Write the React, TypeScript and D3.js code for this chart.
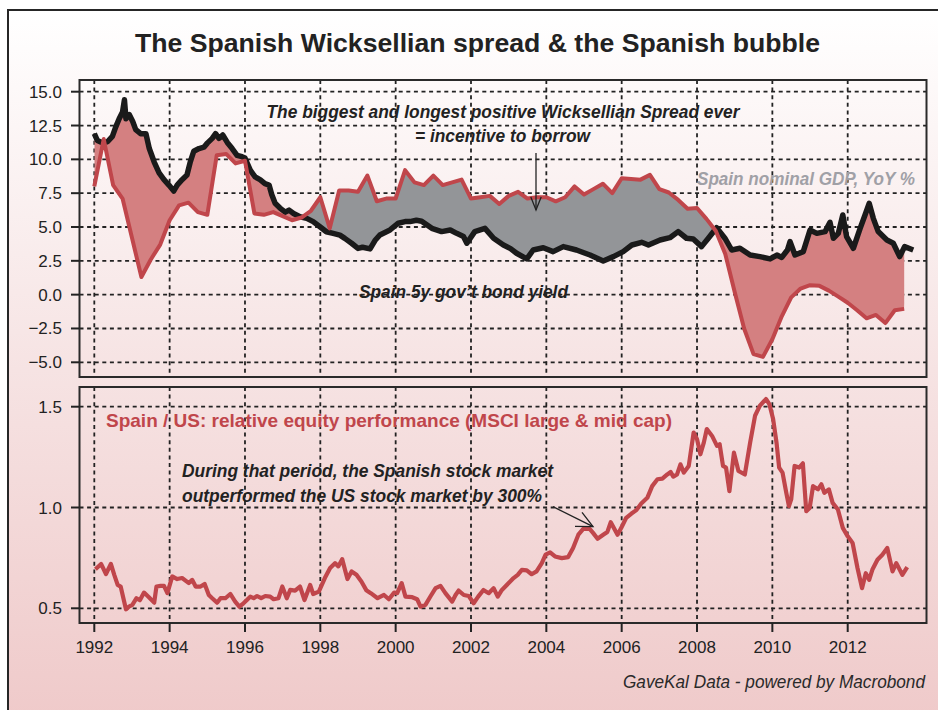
import React from "react"
import * as d3 from "d3"

// ---- data ----
const yearTicks = [1992, 1994, 1996, 1998, 2000, 2002, 2004, 2006, 2008, 2010, 2012]
const topTicks = [15, 12.5, 10, 7.5, 5, 2.5, 0, -2.5, -5]
const bottomTicks = [1.5, 1.0, 0.5]

// Spain nominal GDP, YoY % (quarterly)
const gdpYoY: [number, number][] = [
  [1992.0, 8.0], [1992.25, 11.5], [1992.5, 8.1], [1992.75, 7.1], [1993.0, 4.2], [1993.25, 1.3],
  [1993.5, 2.6], [1993.75, 3.7], [1994.0, 5.5], [1994.25, 6.6], [1994.5, 6.8], [1994.75, 6.1],
  [1995.0, 5.9], [1995.25, 10.3], [1995.5, 10.4], [1995.75, 9.7], [1996.0, 9.9], [1996.25, 6.0],
  [1996.5, 5.9], [1996.75, 6.1], [1997.0, 5.8], [1997.25, 5.5], [1997.5, 5.7], [1997.75, 6.2],
  [1998.0, 7.2], [1998.25, 4.9], [1998.5, 7.7], [1998.75, 7.7], [1999.0, 7.6], [1999.25, 8.8],
  [1999.5, 6.9], [1999.75, 7.1], [2000.0, 7.1], [2000.25, 9.2], [2000.5, 8.3], [2000.75, 8.1],
  [2001.0, 8.8], [2001.25, 8.1], [2001.5, 8.3], [2001.75, 8.5], [2002.0, 7.1], [2002.25, 7.2],
  [2002.5, 7.3], [2002.75, 6.7], [2003.0, 7.3], [2003.25, 7.6], [2003.5, 7.1], [2003.75, 7.2],
  [2004.0, 7.2], [2004.25, 6.9], [2004.5, 7.2], [2004.75, 8.0], [2005.0, 7.4], [2005.25, 7.8],
  [2005.5, 8.2], [2005.75, 7.5], [2006.0, 8.6], [2006.25, 8.55], [2006.5, 8.5], [2006.75, 8.85],
  [2007.0, 7.8], [2007.25, 7.55], [2007.5, 7.0], [2007.75, 6.35], [2008.0, 6.4], [2008.25, 5.6],
  [2008.5, 4.7], [2008.75, 3.0], [2009.0, 0.2], [2009.25, -2.5], [2009.5, -4.4], [2009.75, -4.6],
  [2010.0, -3.3], [2010.25, -1.6], [2010.5, -0.2], [2010.75, 0.45], [2011.0, 0.7], [2011.25, 0.65],
  [2011.5, 0.3], [2011.75, -0.15], [2012.0, -0.6], [2012.25, -1.15], [2012.5, -1.75], [2012.75, -1.5],
  [2013.0, -2.1], [2013.25, -1.15], [2013.5, -1.05],
]

// Spain 5y gov't bond yield
const bondYield: [number, number][] = [
  [1992.0, 11.9], [1992.08, 11.4], [1992.2, 11.25], [1992.35, 11.3], [1992.48, 11.7], [1992.57, 12.4],
  [1992.66, 13.0], [1992.75, 13.5], [1992.8, 14.4], [1992.84, 13.0], [1992.93, 13.3], [1993.02, 12.8],
  [1993.1, 12.2], [1993.23, 11.9], [1993.37, 11.9], [1993.46, 10.8], [1993.59, 9.8], [1993.72, 9.0],
  [1993.85, 8.5], [1993.98, 8.1], [1994.11, 7.66], [1994.2, 8.1], [1994.33, 8.5], [1994.46, 8.84],
  [1994.55, 9.83], [1994.64, 10.6], [1994.78, 10.8], [1994.91, 10.9], [1995.0, 11.2], [1995.13, 11.55],
  [1995.22, 11.9], [1995.31, 11.55], [1995.41, 11.8], [1995.53, 11.25], [1995.66, 10.8], [1995.79, 10.3],
  [1995.92, 10.2], [1996.0, 10.1], [1996.14, 9.2], [1996.27, 8.7], [1996.4, 8.5], [1996.53, 8.2],
  [1996.64, 8.1], [1996.71, 7.4], [1996.8, 6.75], [1996.93, 6.4], [1997.07, 6.1], [1997.17, 6.25],
  [1997.29, 6.0], [1997.46, 5.76], [1997.64, 5.64], [1997.81, 5.4], [1997.99, 5.02], [1998.16, 4.65],
  [1998.34, 4.53], [1998.52, 4.4], [1998.65, 4.16], [1998.83, 3.8], [1999.0, 3.42], [1999.12, 3.5],
  [1999.32, 3.38], [1999.45, 4.0], [1999.58, 4.41], [1999.85, 4.78], [2000.07, 5.28], [2000.25, 5.4],
  [2000.38, 5.4], [2000.55, 5.5], [2000.69, 5.43], [2000.96, 4.9], [2001.22, 4.66], [2001.45, 4.78],
  [2001.62, 4.53], [2001.8, 4.3], [2001.89, 3.8], [2002.1, 4.66], [2002.37, 4.9], [2002.6, 4.17],
  [2002.86, 3.67], [2003.05, 3.4], [2003.21, 3.06], [2003.48, 2.64], [2003.65, 3.3], [2003.92, 3.47],
  [2004.18, 3.18], [2004.45, 3.55], [2004.8, 3.3], [2005.16, 2.93], [2005.51, 2.49], [2005.78, 2.81],
  [2006.04, 3.18], [2006.27, 3.67], [2006.53, 3.87], [2006.71, 3.67], [2007.02, 4.04], [2007.28, 4.21],
  [2007.5, 4.66], [2007.72, 4.17], [2007.9, 4.12], [2008.12, 3.55], [2008.3, 4.17], [2008.52, 4.95],
  [2008.74, 4.17], [2008.92, 3.3], [2009.14, 3.43], [2009.41, 2.93], [2009.67, 2.81], [2009.94, 2.64],
  [2010.12, 2.93], [2010.25, 2.75], [2010.4, 3.3], [2010.47, 3.92], [2010.6, 2.93], [2010.82, 3.18],
  [2011.0, 4.78], [2011.18, 4.53], [2011.4, 4.66], [2011.53, 5.35], [2011.62, 4.17], [2011.75, 4.53],
  [2011.87, 5.89], [2011.97, 4.29], [2012.15, 3.43], [2012.33, 4.9], [2012.46, 5.89], [2012.57, 6.75],
  [2012.68, 5.64], [2012.81, 4.66], [2013.04, 4.04], [2013.21, 3.8], [2013.38, 2.81], [2013.51, 3.55],
  [2013.74, 3.3],
]

// Spain / US relative equity performance
const relEquity: [number, number][] = [
  [1992.03, 0.694], [1992.18, 0.72], [1992.31, 0.67], [1992.44, 0.72], [1992.53, 0.666], [1992.62, 0.616],
  [1992.7, 0.608], [1992.84, 0.495], [1992.93, 0.51], [1993.01, 0.517], [1993.12, 0.55], [1993.21, 0.54],
  [1993.32, 0.578], [1993.45, 0.555], [1993.59, 0.528], [1993.65, 0.608], [1993.76, 0.611], [1993.85, 0.611],
  [1993.94, 0.575], [1994.07, 0.658], [1994.2, 0.645], [1994.33, 0.65], [1994.51, 0.625], [1994.6, 0.641],
  [1994.69, 0.608], [1994.82, 0.608], [1994.93, 0.621], [1995.04, 0.566], [1995.13, 0.55], [1995.26, 0.528],
  [1995.35, 0.55], [1995.48, 0.55], [1995.61, 0.571], [1995.74, 0.533], [1995.85, 0.508], [1995.96, 0.525],
  [1996.05, 0.541], [1996.14, 0.558], [1996.23, 0.55], [1996.32, 0.561], [1996.43, 0.55], [1996.54, 0.561],
  [1996.67, 0.558], [1996.76, 0.545], [1996.89, 0.55], [1996.99, 0.608], [1997.11, 0.55], [1997.2, 0.591],
  [1997.33, 0.588], [1997.46, 0.608], [1997.58, 0.541], [1997.73, 0.616], [1997.81, 0.571], [1997.96, 0.583],
  [1998.12, 0.65], [1998.26, 0.7], [1998.39, 0.724], [1998.48, 0.708], [1998.58, 0.744], [1998.72, 0.645],
  [1998.83, 0.683], [1998.96, 0.666], [1999.09, 0.633], [1999.22, 0.59], [1999.34, 0.575], [1999.52, 0.55],
  [1999.69, 0.566], [1999.82, 0.545], [1999.96, 0.578], [2000.04, 0.575], [2000.16, 0.625], [2000.26, 0.558],
  [2000.44, 0.555], [2000.57, 0.545], [2000.66, 0.508], [2000.79, 0.517], [2000.93, 0.561], [2001.06, 0.6],
  [2001.19, 0.611], [2001.32, 0.575], [2001.5, 0.533], [2001.59, 0.566], [2001.67, 0.588], [2001.81, 0.566],
  [2001.94, 0.561], [2002.07, 0.525], [2002.19, 0.558], [2002.33, 0.591], [2002.47, 0.575], [2002.6, 0.6],
  [2002.71, 0.558], [2002.82, 0.591], [2003.0, 0.625], [2003.13, 0.65], [2003.24, 0.666], [2003.35, 0.691],
  [2003.48, 0.688], [2003.61, 0.669], [2003.74, 0.683], [2003.88, 0.724], [2003.98, 0.766], [2004.1, 0.777],
  [2004.23, 0.757], [2004.41, 0.749], [2004.58, 0.754], [2004.71, 0.799], [2004.85, 0.865], [2004.98, 0.894],
  [2005.15, 0.894], [2005.24, 0.874], [2005.36, 0.845], [2005.51, 0.865], [2005.62, 0.879], [2005.71, 0.927],
  [2005.89, 0.865], [2005.99, 0.899], [2006.12, 0.949], [2006.26, 0.97], [2006.39, 0.987], [2006.52, 1.02],
  [2006.68, 1.048], [2006.81, 1.106], [2006.95, 1.14], [2007.08, 1.143], [2007.21, 1.164], [2007.3, 1.176],
  [2007.37, 1.153], [2007.47, 1.164], [2007.56, 1.214], [2007.65, 1.173], [2007.78, 1.206], [2007.91, 1.372],
  [2008.0, 1.339], [2008.09, 1.264], [2008.18, 1.322], [2008.26, 1.389], [2008.4, 1.355], [2008.53, 1.306],
  [2008.6, 1.314], [2008.69, 1.206], [2008.77, 1.198], [2008.86, 1.081], [2008.98, 1.272], [2009.1, 1.181],
  [2009.27, 1.164], [2009.41, 1.322], [2009.54, 1.455], [2009.67, 1.505], [2009.83, 1.538], [2009.92, 1.513],
  [2010.02, 1.439], [2010.11, 1.322], [2010.18, 1.198], [2010.27, 1.173], [2010.37, 1.073], [2010.44, 1.007],
  [2010.5, 1.04], [2010.59, 1.206], [2010.71, 1.198], [2010.81, 1.219], [2010.9, 0.982], [2010.99, 0.998],
  [2011.08, 1.106], [2011.21, 1.09], [2011.3, 1.115], [2011.38, 1.073], [2011.5, 1.09], [2011.6, 1.023],
  [2011.74, 0.99], [2011.87, 0.899], [2012.0, 0.857], [2012.13, 0.824], [2012.26, 0.7], [2012.38, 0.6],
  [2012.48, 0.674], [2012.57, 0.641], [2012.66, 0.694], [2012.79, 0.741], [2012.92, 0.766], [2013.05, 0.799],
  [2013.19, 0.683], [2013.29, 0.724], [2013.45, 0.666], [2013.58, 0.704],
]

const RED = "#c0464b"
const PINK = "#d48081"
const GREY = "#939598"
const INK = "#222"
const FONT = "'Liberation Sans', Arial, sans-serif"

// panel boxes
const left = 79.5, right = 926.5
const top1 = 80, bot1 = 377
const top2 = 387, bot2 = 623

const x = d3.scaleLinear().domain([1992, 2012]).range([94.3, 847.7])
const yTop = d3.scaleLinear().domain([-5, 15]).range([362.3, 91.7])
const yBot = d3.scaleLinear().domain([0.5, 1.5]).range([608.3, 406.7])
const fmt = d3.format(".1f")

function arrowHead(x1: number, y1: number, x2: number, y2: number, len = 14, ang = 0.38) {
  const a = Math.atan2(y2 - y1, x2 - x1)
  const p1 = [x2 - len * Math.cos(a - ang), y2 - len * Math.sin(a - ang)]
  const p2 = [x2 - len * Math.cos(a + ang), y2 - len * Math.sin(a + ang)]
  return `M${p1[0]},${p1[1]}L${x2},${y2}L${p2[0]},${p2[1]}`
}

export default function App() {
  const lineTop = d3.line<[number, number]>().x(d => x(d[0])).y(d => yTop(d[1]))
  const lineBot = d3.line<[number, number]>().x(d => x(d[0])).y(d => yBot(d[1]))

  // band between the two curves, coloured by which one is on top
  const band = lineTop([...bondYield, ...gdpYoY.slice().reverse()]) + "Z"
  const gdpPath = lineTop(gdpYoY)!
  const x0 = x(gdpYoY[0][0])
  const xEnd = x(gdpYoY[gdpYoY.length - 1][0])
  const aboveRed = `${gdpPath}L${xEnd},${top1}L${x0},${top1}Z`
  const belowRed = `${gdpPath}L${xEnd},${bot1}L${x0},${bot1}Z`

  const grid = { stroke: INK, strokeWidth: 1.8, strokeDasharray: "4,3.6" }

  return (
    <svg width={938} height={710} style={{ position: "absolute", left: 0, top: 0, display: "block" }} fontFamily={FONT}>
      <defs>
        <linearGradient id="bg" x1="0" y1="0" x2="0" y2="1">
          <stop offset="0" stopColor="#ffffff" />
          <stop offset="0.5" stopColor="#f6e3e3" />
          <stop offset="1" stopColor="#efc9c9" />
        </linearGradient>
        <clipPath id="above"><path d={aboveRed} /></clipPath>
        <clipPath id="below"><path d={belowRed} /></clipPath>
        <clipPath id="p1"><rect x={left} y={top1} width={right - left} height={bot1 - top1} /></clipPath>
        <clipPath id="p2"><rect x={left} y={top2} width={right - left} height={bot2 - top2} /></clipPath>
      </defs>

      <rect x={0} y={0} width={938} height={710} fill="#fff" />
      <rect x={8} y={10} width={945} height={720} fill="url(#bg)" stroke="#262626" strokeWidth={2} />

      <text x={477.5} y={52} textAnchor="middle" fontWeight="bold" fontSize={26.5} fill={INK} textLength={685} lengthAdjust="spacingAndGlyphs">
        The Spanish Wicksellian spread &amp; the Spanish bubble
      </text>

      {/* top panel */}
      <g clipPath="url(#p1)">
        {yearTicks.map(t => <line key={t} x1={x(t)} x2={x(t)} y1={top1} y2={bot1} {...grid} />)}
        {topTicks.map(t => <line key={t} x1={left} x2={right} y1={yTop(t)} y2={yTop(t)} {...grid} />)}
        <path d={band} fill={PINK} fillRule="evenodd" clipPath="url(#above)" />
        <path d={band} fill={GREY} fillRule="evenodd" clipPath="url(#below)" />
        <path d={lineTop(bondYield)!} fill="none" stroke="#1a1a1a" strokeWidth={5.5} strokeLinejoin="round" />
        <path d={gdpPath} fill="none" stroke={RED} strokeWidth={4} strokeLinejoin="round" />
      </g>
      <rect x={left} y={top1} width={right - left} height={bot1 - top1} fill="none" stroke="#2a2a2a" strokeWidth={2} />
      {topTicks.map(t => (
        <g key={t}>
          <line x1={71} x2={left} y1={yTop(t)} y2={yTop(t)} stroke={INK} strokeWidth={2} />
          <text x={62} y={yTop(t) + 6} textAnchor="end" fontSize={17} fill={INK}>{fmt(t)}</text>
        </g>
      ))}

      <g fontWeight="bold" fontStyle="italic" fontSize={18.5} fill={INK}>
        <text x={503} y={118} textAnchor="middle" textLength={473} lengthAdjust="spacingAndGlyphs">The biggest and longest positive Wicksellian Spread ever</text>
        <text x={502.5} y={141.5} textAnchor="middle" textLength={175} lengthAdjust="spacingAndGlyphs">= incentive to borrow</text>
        <text x={359} y={297.5} textLength={209} lengthAdjust="spacingAndGlyphs">Spain 5y gov’t bond yield</text>
      </g>
      <text x={697} y={184.5} fontWeight="bold" fontStyle="italic" fontSize={18.5} fill="#a0a0a6" textLength={218} lengthAdjust="spacingAndGlyphs">Spain nominal GDP, YoY %</text>
      <line x1={536} y1={153} x2={536} y2={210} stroke={INK} strokeWidth={1.3} />
      <path d={arrowHead(536, 153, 536, 210)} fill="none" stroke={INK} strokeWidth={1.3} />

      {/* bottom panel */}
      <g clipPath="url(#p2)">
        {yearTicks.map(t => <line key={t} x1={x(t)} x2={x(t)} y1={top2} y2={bot2} {...grid} />)}
        {bottomTicks.map(t => <line key={t} x1={left} x2={right} y1={yBot(t)} y2={yBot(t)} {...grid} />)}
        <path d={lineBot(relEquity)!} fill="none" stroke={RED} strokeWidth={4.2} strokeLinejoin="round" />
      </g>
      <rect x={left} y={top2} width={right - left} height={bot2 - top2} fill="none" stroke="#2a2a2a" strokeWidth={2} />
      {bottomTicks.map(t => (
        <g key={t}>
          <line x1={71} x2={left} y1={yBot(t)} y2={yBot(t)} stroke={INK} strokeWidth={2} />
          <text x={62} y={yBot(t) + 6} textAnchor="end" fontSize={17} fill={INK}>{fmt(t)}</text>
        </g>
      ))}
      {yearTicks.map(t => (
        <g key={t}>
          <line x1={x(t)} x2={x(t)} y1={bot2} y2={632} stroke={INK} strokeWidth={2} />
          <text x={x(t)} y={653} textAnchor="middle" fontSize={17} fill={INK}>{t}</text>
        </g>
      ))}

      <text x={106} y={426.5} fontWeight="bold" fontSize={19} fill={RED} textLength={566} lengthAdjust="spacingAndGlyphs">
        Spain / US: relative equity performance (MSCI large &amp; mid cap)
      </text>
      <g fontWeight="bold" fontStyle="italic" fontSize={18.5} fill={INK}>
        <text x={182} y={476.5} textLength={371} lengthAdjust="spacingAndGlyphs">During that period, the Spanish stock market</text>
        <text x={182} y={501.5} textLength={360} lengthAdjust="spacingAndGlyphs">outperformed the US stock market by 300%</text>
      </g>
      <line x1={553} y1={506.7} x2={593} y2={526.7} stroke={INK} strokeWidth={1.3} />
      <path d={arrowHead(553, 506.7, 593, 526.7, 18, 0.45)} fill="none" stroke={INK} strokeWidth={1.3} />

      <text x={925} y={688} textAnchor="end" fontStyle="italic" fontSize={18} fill="#2a2a2a" textLength={302} lengthAdjust="spacingAndGlyphs">
        GaveKal Data - powered by Macrobond
      </text>
    </svg>
  )
}
